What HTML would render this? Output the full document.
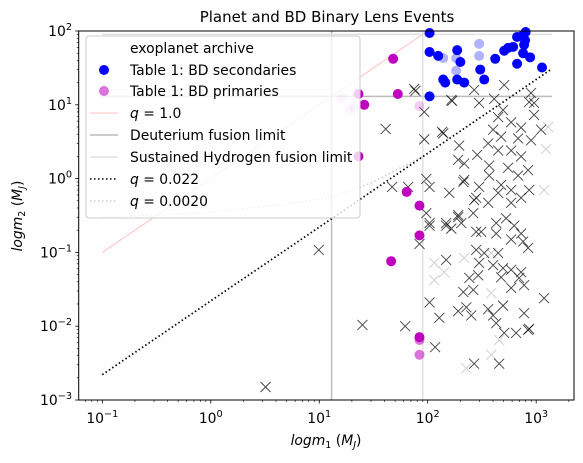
<!DOCTYPE html>
<html><head><meta charset="utf-8"><style>
body{margin:0;background:#fff;}
svg{display:block;font-family:"DejaVu Sans","Liberation Sans",sans-serif;}
</style></head><body>
<svg id="chart" width="583" height="463" viewBox="0 0 583 463" xmlns="http://www.w3.org/2000/svg">
<rect width="583" height="463" fill="#fff"/>
<text x="327" y="22" font-size="15" text-anchor="middle">Planet and BD Binary Lens Events</text>
<g id="plot"></g>
<g id="axes"></g>
<g id="legend">
<rect x="86" y="36" width="274" height="182" rx="3" fill="#fff" fill-opacity="0.8" stroke="#ccc"/>
<text x="130" y="53" font-size="13.9">exoplanet archive</text>
<circle cx="104" cy="70" r="5" fill="#0000ff"/>
<text x="130" y="75" font-size="13.9">Table 1: BD secondaries</text>
<circle cx="104" cy="91" r="5" fill="#bf00bf" fill-opacity="0.55"/>
<text x="130" y="96" font-size="13.9">Table 1: BD primaries</text>
<line x1="90" y1="113" x2="118" y2="113" stroke="#ff9999" stroke-opacity="0.6"/>
<text x="130" y="118" font-size="13.9"><tspan font-style="italic">q</tspan> = 1.0</text>
<line x1="90" y1="135" x2="118" y2="135" stroke="#bbb" stroke-width="1.5"/>
<text x="130" y="140" font-size="13.9">Deuterium fusion limit</text>
<line x1="90" y1="157" x2="118" y2="157" stroke="#e0e0e0" stroke-width="1.5"/>
<text x="130" y="162" font-size="13.9">Sustained Hydrogen fusion limit</text>
<line x1="90" y1="179" x2="118" y2="179" stroke="#000" stroke-width="1.5" stroke-dasharray="1.5,2.5"/>
<text x="130" y="184" font-size="13.9"><tspan font-style="italic">q</tspan> = 0.022</text>
<line x1="90" y1="201" x2="118" y2="201" stroke="#ccc" stroke-width="1.5" stroke-dasharray="1.5,2.5"/>
<text x="130" y="206" font-size="13.9"><tspan font-style="italic">q</tspan> = 0.0020</text>
</g>
<text x="326" y="445" font-size="13.9" text-anchor="middle"><tspan font-style="italic">logm</tspan><tspan font-size="9.5" dy="3">1</tspan><tspan dy="-3"> (</tspan><tspan font-style="italic">M</tspan><tspan font-size="9.5" font-style="italic" dy="3">J</tspan><tspan dy="-3">)</tspan></text>
<text transform="translate(22,216) rotate(-90)" font-size="13.9" text-anchor="middle"><tspan font-style="italic">logm</tspan><tspan font-size="9.5" dy="3">2</tspan><tspan dy="-3"> (</tspan><tspan font-style="italic">M</tspan><tspan font-size="9.5" font-style="italic" dy="3">J</tspan><tspan dy="-3">)</tspan></text>
</svg>
<script>
const xTickExps=[-1,0,1,2,3];
const yTickExps=[-3,-2,-1,0,1,2];
const qUnit=1.0, qMid=0.022;
const deuteriumLimit=13, hydrogenLimit=90;
const qLowM1=[0.1,0.5,1.0,2,5,13,30,90];
const qLowM2=[0.30,0.33,0.35,0.39,0.45,0.56,0.87,2.0];
const bdSecM1=[104,104,125,187,200,305,332,139,145,187,217,419,507,551,613,667,758,774,758,879,667,1132,104,800,790];
const bdSecM2=[94,52,46,55,38,30,22,22,20,22,20,42,54,59,61,83,88,65,50,44,36,32,13,97,75];
const bdSecFaintM1=[298,298,183,139,183];
const bdSecFaintM2=[67,46,29,43,43];
const bdPriM1=[48,53,26,23,23,64,84,84,46,84];
const bdPriM2=[42,14,10,14,2.0,0.66,0.43,0.17,0.076,0.0071];
const bdPriFaintM1=[84,16,21,19,84,84];
const bdPriFaintM2=[9.6,12.4,9.3,8.5,0.0041,0.0065];
const exoM1=[507,268,168,298,410,897,861,957,495,957,446,588,401,726,1109,93,136,475,681,897,361,195,286,191,446,588,726,369,551,842,217,681,369,97,213,298,475,588,104,158,861,280,361,588,726,446,41,139,47,66,191,148,268,104,217,77,165,93,75,9.9,25,62,117,84,104,128,268,456,1183,861,97,104,148,165,191,204,263,311,428,428,528,627,726,588,758,842,280,332,446,148,298,401,495,588,726,242,292,475,697,774,588,213,263,191,227,252,361,495,401,428,507,653,842,774,280,3.2];
const exoM2=[18.5,15.9,11.3,10.6,12.0,14.5,10.9,10.6,8.5,7.3,6.8,5.8,4.6,4.9,4.6,3.4,4.3,3.7,3.5,3.3,3.0,2.8,2.1,1.8,2.4,2.4,2.0,1.5,1.4,1.3,1.6,1.1,1.1,0.99,0.90,0.77,0.82,0.70,0.77,0.64,0.70,0.55,0.47,0.47,0.55,0.64,4.7,4.1,0.77,0.77,0.30,0.23,0.51,0.23,0.96,15.4,11.6,8.0,16.4,0.108,0.0104,0.010,0.0052,0.13,0.021,0.013,0.0031,0.0031,0.024,0.0092,0.34,0.25,0.25,0.21,0.32,0.25,0.34,0.19,0.25,0.18,0.29,0.23,0.18,0.15,0.14,0.115,0.108,0.098,0.098,0.079,0.072,0.067,0.061,0.058,0.054,0.045,0.049,0.046,0.045,0.036,0.033,0.029,0.031,0.016,0.018,0.014,0.017,0.019,0.014,0.011,0.0081,0.0081,0.0089,0.015,0.19,0.0015];
const exoFaintM1=[1288,1233,1183,115,142,115,217,385,385,456,385,227];
const exoFaintM2=[5.0,2.5,0.70,0.072,0.054,0.042,0.084,0.098,0.028,0.0065,0.0041,0.0027];

const L=78.7,R=574,T=31,B=400;
const xMin=-1.2176, xMax=3.3487, yMin=-3, yMax=2;
const xs=v=>L+(Math.log10(v)-xMin)/(xMax-xMin)*(R-L);
const ys=v=>B-(Math.log10(v)-yMin)/(yMax-yMin)*(B-T);
const NS="http://www.w3.org/2000/svg";
const plot=document.getElementById('plot'), axes=document.getElementById('axes');
function mk(tag,attrs,parent){const e=document.createElementNS(NS,tag);for(const k in attrs)e.setAttribute(k,attrs[k]);parent.appendChild(e);return e;}

let e;
e=mk('line',{x1:xs(0.1),y1:ys(0.1*qUnit),x2:xs(100),y2:ys(100*qUnit),stroke:'#ff9999','stroke-opacity':0.6},plot);


e=mk('line',{x1:xs(deuteriumLimit),y1:T,x2:xs(deuteriumLimit),y2:B,stroke:'#bbb','stroke-width':1.5},plot);


e=mk('line',{x1:xs(0.1),y1:ys(deuteriumLimit),x2:xs(1400),y2:ys(deuteriumLimit),stroke:'#bbb','stroke-width':1.5},plot);


e=mk('line',{x1:xs(hydrogenLimit),y1:T,x2:xs(hydrogenLimit),y2:B,stroke:'#e0e0e0','stroke-width':1.5},plot);


e=mk('line',{x1:xs(0.1),y1:ys(hydrogenLimit),x2:xs(1400),y2:ys(hydrogenLimit),stroke:'#e0e0e0','stroke-width':1.5},plot);


e=mk('polyline',{points:qLowM1.map((m,i)=>xs(m)+','+ys(qLowM2[i])).join(' '),fill:'none',stroke:'#ccc','stroke-width':1.5,'stroke-dasharray':'1.5,2.5'},plot);



function cross(m1,m2,op,name){
  const x=xs(m1),y=ys(m2),s=5;
  const g=mk('path',{d:`M${x-s},${y-s}L${x+s},${y+s}M${x-s},${y+s}L${x+s},${y-s}`,stroke:'#000','stroke-opacity':op,'stroke-width':0.9,fill:'none'},plot);
  
  
}
exoFaintM1.forEach((m,i)=>cross(m,exoFaintM2[i],0.2,'exoplanet-point-faint'));
exoM1.forEach((m,i)=>cross(m,exoM2[i],0.75,'exoplanet-point'));

e=mk('line',{x1:xs(0.1),y1:ys(0.1*qMid),x2:xs(1400),y2:ys(1400*qMid),stroke:'#000','stroke-width':1.7,'stroke-dasharray':'1.5,2.5'},plot);



function dot(m1,m2,col,op,name){
  const c=mk('circle',{cx:xs(m1),cy:ys(m2),r:5,fill:col,'fill-opacity':op},plot);
  
  
}
bdSecFaintM1.forEach((m,i)=>dot(m,bdSecFaintM2[i],'#0000ff',0.3,'bd-secondary-point-faint'));
bdSecM1.forEach((m,i)=>dot(m,bdSecM2[i],'#0000ff',1,'bd-secondary-point'));
bdPriFaintM1.forEach((m,i)=>dot(m,bdPriFaintM2[i],'#bf00bf',0.2+(i>=4?0.35:0),'bd-primary-point-faint'));
bdPriM1.forEach((m,i)=>dot(m,bdPriM2[i],'#bf00bf',1,'bd-primary-point'));

e=mk('rect',{x:L,y:T,width:R-L,height:B-T,fill:'none',stroke:'#000','stroke-width':1},axes);


for(let d=-2;d<=3;d++){for(let k=1;k<10;k++){const v=k*Math.pow(10,d);const x=xs(v);if(x<L-0.1||x>R+0.1)continue;
  mk('line',{x1:x,y1:B,x2:x,y2:B+(k==1?3.5:2),stroke:'#000','stroke-width':k==1?0.8:0.6},axes);}}
xTickExps.forEach(p=>{const t=mk('text',{x:xs(Math.pow(10,p)),y:423,'font-size':13.9,'text-anchor':'middle'},axes);
  
  
  t.innerHTML=`10<tspan font-size="9.7" dy="-6">${p<0?'\u2212'+(-p):p}</tspan>`;});
for(let d=-3;d<=1;d++){for(let k=1;k<10;k++){const v=k*Math.pow(10,d);const y=ys(v);
  mk('line',{x1:L,y1:y,x2:L-(k==1?3.5:2),y2:y,stroke:'#000','stroke-width':k==1?0.8:0.6},axes);}}
mk('line',{x1:L,y1:T,x2:L-3.5,y2:T,stroke:'#000','stroke-width':0.8},axes);
yTickExps.forEach(p=>{const t=mk('text',{x:72,y:ys(Math.pow(10,p))+5,'font-size':13.9,'text-anchor':'end'},axes);
  
  
  t.innerHTML=`10<tspan font-size="9.7" dy="-6">${p<0?'\u2212'+(-p):p}</tspan>`;});
</script>
</body></html>
